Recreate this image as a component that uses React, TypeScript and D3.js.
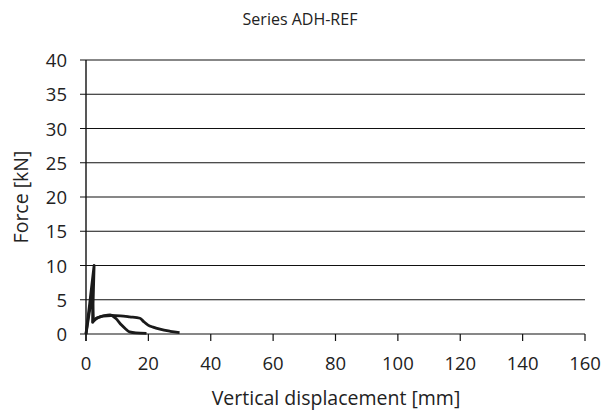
import React from 'react';
import * as d3 from 'd3';

// specimen curves (displacement mm, force kN)
const dispA = [0, 1.2, 2.6, 2.1, 3.0, 4.5, 6.0, 7.7, 9.5, 11.4, 12.8, 14, 16, 19.4];
const forceA = [0, 4.5, 10.0, 1.7, 2.2, 2.5, 2.7, 2.8, 2.3, 1.3, 0.7, 0.3, 0.15, 0.1];
const dispB = [0, 1.0, 2.0, 2.4, 3.5, 5.5, 8, 11, 14, 17.3, 18.5, 19.9, 21.5, 23.7, 27, 30];
const forceB = [0, 3.0, 5.5, 1.9, 2.3, 2.6, 2.7, 2.65, 2.5, 2.3, 1.8, 1.3, 1.0, 0.7, 0.4, 0.2];
const xTicks = [0, 20, 40, 60, 80, 100, 120, 140, 160];
const yTicks = [0, 5, 10, 15, 20, 25, 30, 35, 40];

const W = 614;
const H = 414;
const font = '"Open Sans", sans-serif';

export default function App() {
  const x = d3.scaleLinear().domain([0, 160]).range([86, 585]);
  const y = d3.scaleLinear().domain([0, 40]).range([334, 60]);

  const line = d3.line<[number, number]>()
    .x(d => x(d[0]))
    .y(d => y(d[1]))
    .curve(d3.curveMonotoneX);
  const straight = d3.line<[number, number]>().x(d => x(d[0])).y(d => y(d[1]));

  const ptsA = dispA.map((d, i) => [d, forceA[i]] as [number, number]);
  const ptsB = dispB.map((d, i) => [d, forceB[i]] as [number, number]);

  return (
    <svg width={W} height={H} style={{ position: 'absolute', left: 0, top: 0, background: '#fff' }}>
      <text x={300} y={25} textAnchor="middle" fontFamily={font} fontSize={16} fill="#222">Series ADH-REF</text>
      {yTicks.map(t => (
        <g key={'y' + t}>
          <line x1={80} x2={585} y1={y(t)} y2={y(t)} stroke="#111" strokeWidth={1.2} />
          <text x={67} y={y(t) + 7} textAnchor="end" fontFamily={font} fontSize={18.5} fill="#222">{t}</text>
        </g>
      ))}
      {xTicks.map(t => (
        <g key={'x' + t}>
          <line x1={x(t)} x2={x(t)} y1={334} y2={341} stroke="#111" strokeWidth={1.2} />
          <text x={x(t)} y={370} textAnchor="middle" fontFamily={font} fontSize={18.5} fill="#222">{t}</text>
        </g>
      ))}
      <line x1={86} x2={86} y1={60} y2={341} stroke="#111" strokeWidth={1.4} />
      <text x={336} y={405} textAnchor="middle" fontFamily={font} fontSize={19.5} fill="#222">Vertical displacement [mm]</text>
      <text transform={`translate(28,${197}) rotate(-90)`} textAnchor="middle" fontFamily={font} fontSize={19.5} fill="#222">Force [kN]</text>
      <path d={straight(ptsA.slice(0, 4)) + (line(ptsA.slice(3)) || '').replace(/^M/, 'L')} fill="none" stroke="#1a1a1a" strokeWidth={2.8} strokeLinejoin="round" />
      <path d={straight(ptsB.slice(0, 4)) + (line(ptsB.slice(3)) || '').replace(/^M/, 'L')} fill="none" stroke="#1a1a1a" strokeWidth={2.8} strokeLinejoin="round" />
    </svg>
  );
}
